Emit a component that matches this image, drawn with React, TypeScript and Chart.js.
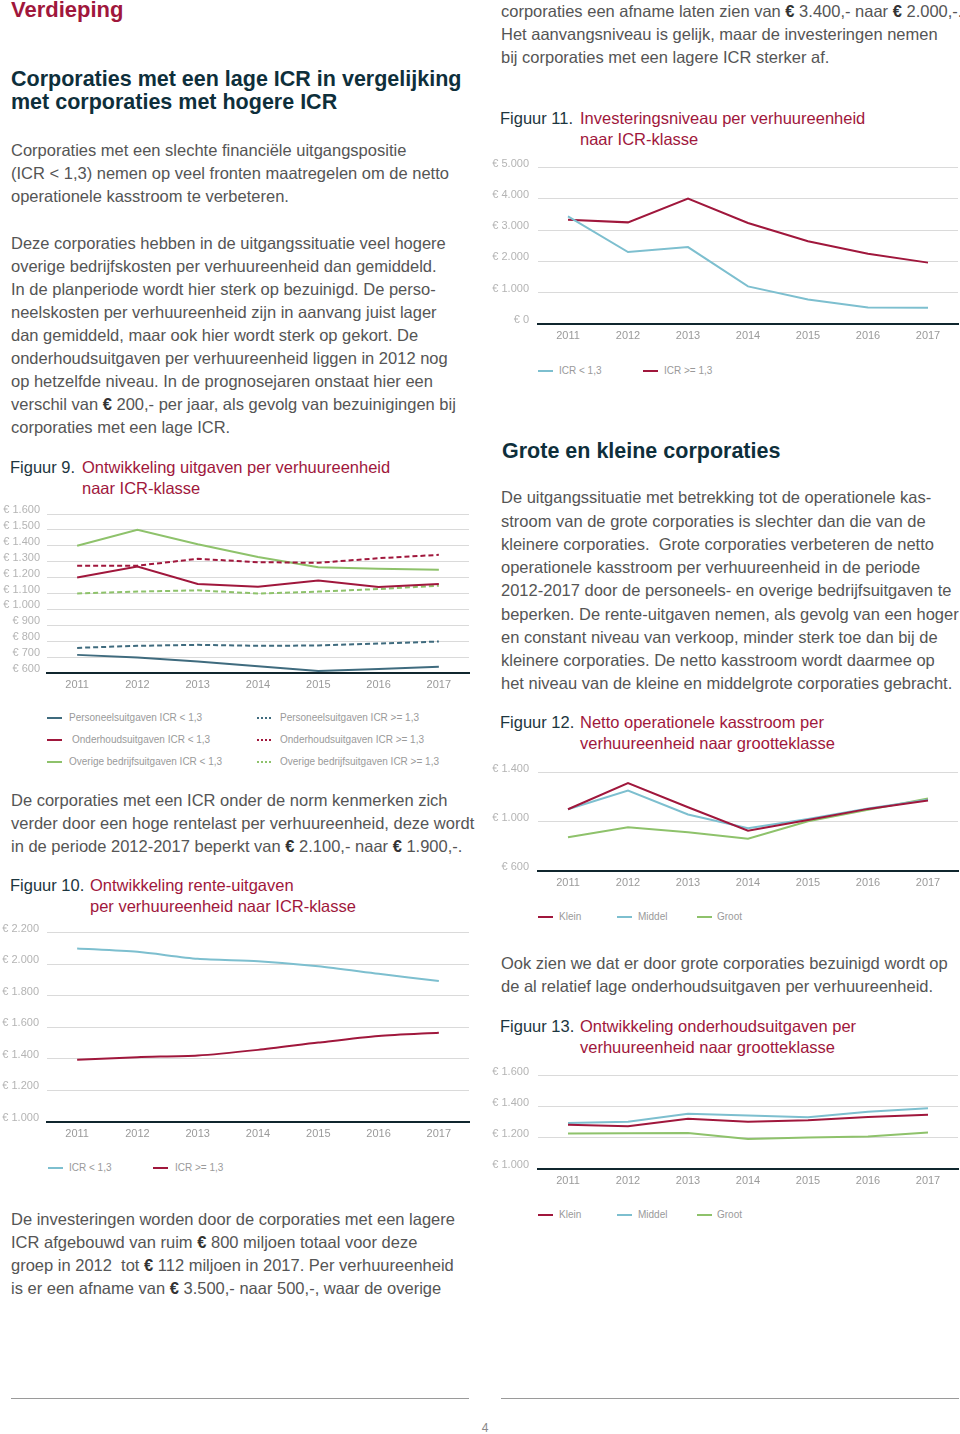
import React, { useEffect, useRef } from "react";
import { Chart, registerables } from "chart.js";

Chart.register(...registerables);

const FONT = '"Liberation Sans", Arial, Helvetica, sans-serif';

const years = ["2011", "2012", "2013", "2014", "2015", "2016", "2017"];

// Figuur 9
const personeelLow = [714, 697, 672, 642, 613, 625, 640];
const personeelHigh = [758, 771, 777, 771, 773, 785, 798];
const onderhoudLow = [1200, 1270, 1160, 1143, 1181, 1141, 1160];
const onderhoudHigh = [1274, 1275, 1318, 1297, 1293, 1322, 1343];
const overigeLow = [1400, 1500, 1410, 1330, 1265, 1255, 1250];
const overigeHigh = [1100, 1112, 1120, 1100, 1112, 1128, 1149];

// Figuur 10
const renteLow = [2100, 2078, 2034, 2019, 1987, 1939, 1893];
const renteHigh = [1394, 1411, 1421, 1457, 1503, 1545, 1566];

// Figuur 11
const investLow = [3440, 2300, 2458, 1203, 781, 527, 517];
const investHigh = [3333, 3249, 4008, 3228, 2648, 2247, 1962];

// Figuur 12
const kasKlein = [1102, 1315, 1118, 927, 1015, 1105, 1174];
const kasMiddel = [1102, 1254, 1060, 948, 1023, 1108, 1180];
const kasGroot = [874, 956, 916, 863, 1004, 1097, 1190];

// Figuur 13
const ohKlein = [1285, 1275, 1323, 1304, 1313, 1334, 1349];
const ohMiddel = [1296, 1304, 1355, 1344, 1332, 1368, 1391];
const ohGroot = [1228, 1230, 1232, 1192, 1203, 1209, 1235];

const RED = "#a0173c";
const SLATE = "#3f6b7e";
const GREEN = "#8ec26b";
const LIGHTBLUE = "#7dbfcf";
const DARK = "#0e2f3b";
const TEXT = "#555555";
const BODY = 16.5;

type Series = { label: string; data: number[]; color: string; dashed?: boolean };

const fig9Series: Series[] = [
  { label: "Personeelsuitgaven ICR < 1,3", data: personeelLow, color: SLATE },
  { label: "Personeelsuitgaven ICR >= 1,3", data: personeelHigh, color: SLATE, dashed: true },
  { label: "Onderhoudsuitgaven ICR < 1,3", data: onderhoudLow, color: RED },
  { label: "Onderhoudsuitgaven ICR >= 1,3", data: onderhoudHigh, color: RED, dashed: true },
  { label: "Overige bedrijfsuitgaven ICR < 1,3", data: overigeLow, color: GREEN },
  { label: "Overige bedrijfsuitgaven ICR >= 1,3", data: overigeHigh, color: GREEN, dashed: true },
];
const fig10Series: Series[] = [
  { label: "ICR < 1,3", data: renteLow, color: LIGHTBLUE },
  { label: "ICR >= 1,3", data: renteHigh, color: RED },
];
const fig11Series: Series[] = [
  { label: "ICR < 1,3", data: investLow, color: LIGHTBLUE },
  { label: "ICR >= 1,3", data: investHigh, color: RED },
];
const fig12Series: Series[] = [
  { label: "Klein", data: kasKlein, color: RED },
  { label: "Middel", data: kasMiddel, color: LIGHTBLUE },
  { label: "Groot", data: kasGroot, color: GREEN },
];
const fig13Series: Series[] = [
  { label: "Klein", data: ohKlein, color: RED },
  { label: "Middel", data: ohMiddel, color: LIGHTBLUE },
  { label: "Groot", data: ohGroot, color: GREEN },
];

function euro(v: number | string) {
  const n = Math.round(Number(v));
  return "€ " + String(n).replace(/\B(?=(\d{3})+(?!\d))/g, ".");
}

type ChartProps = {
  x: number; y: number; w: number; h: number; yW: number; pad: number;
  min: number; max: number; step: number; series: Series[]; tension?: number;
};

function LineChart({ x, y, w, h, yW, pad, min, max, step, series, tension = 0 }: ChartProps) {
  const ref = useRef<HTMLCanvasElement>(null);
  const PT = 14;
  const XH = 22;
  const cw = yW + w + 1;
  const ch = PT + h + XH;
  useEffect(() => {
    const chart = new Chart(ref.current as HTMLCanvasElement, {
      type: "line",
      data: {
        labels: years,
        datasets: series.map((s) => ({
          label: s.label,
          data: s.data,
          borderColor: s.color,
          backgroundColor: s.color,
          borderWidth: 2,
          borderDash: s.dashed ? [5, 3] : [],
          pointRadius: 0,
          tension,
          fill: false,
        })),
      },
      options: {
        responsive: false,
        animation: false,
        maintainAspectRatio: false,
        layout: { padding: { top: PT, right: 1, left: 0, bottom: 0 } },
        plugins: { legend: { display: false }, tooltip: { enabled: false } },
        scales: {
          x: {
            offset: true,
            grid: { display: false, drawTicks: false },
            border: { display: true, color: "#10262e", width: 2 },
            ticks: { color: "#9a9a9a", font: { size: 11, family: FONT }, padding: 5, maxRotation: 0, autoSkip: false },
            afterFit: (s: any) => { s.height = XH; },
          },
          y: {
            min, max,
            grid: { color: "#dadada", lineWidth: 1, drawTicks: false },
            border: { display: false },
            ticks: {
              stepSize: step,
              autoSkip: false,
              color: "#b4b4b4",
              font: { size: 11, family: FONT },
              padding: pad,
              labelOffset: -4,
              callback: (v: any) => euro(v),
            },
            afterFit: (s: any) => { s.width = yW; },
          },
        },
      } as any,
    });
    return () => chart.destroy();
  }, []);
  return (
    <canvas
      ref={ref}
      width={cw}
      height={ch}
      style={{ position: "absolute", left: x - yW, top: y - PT, width: cw, height: ch }}
    />
  );
}

type LegendItem = { series: Series; x: number; y: number; textX: number };

function Legend({ items }: { items: LegendItem[] }) {
  return (
    <>
      {items.map((it, i) => (
        <React.Fragment key={i}>
          <div
            style={{
              position: "absolute",
              left: it.x,
              top: it.y - 1,
              width: 15,
              height: 2,
              background: it.series.dashed
                ? `repeating-linear-gradient(90deg, ${it.series.color} 0 2.5px, transparent 2.5px 4px)`
                : it.series.color,
            }}
          />
          <div
            style={{
              position: "absolute",
              left: it.textX,
              top: it.y - 7,
              height: 14,
              lineHeight: "14px",
              fontSize: 10,
              color: "#9a9a9a",
              whiteSpace: "nowrap",
            }}
          >
            {it.series.label}
          </div>
        </React.Fragment>
      ))}
    </>
  );
}

function renderEuro(line: string) {
  const parts = line.split("€");
  const out: React.ReactNode[] = [];
  parts.forEach((p, i) => {
    if (i > 0) out.push(<span key={"e" + i} style={{ fontWeight: 700, color: "#333" }}>€</span>);
    out.push(<React.Fragment key={"t" + i}>{p}</React.Fragment>);
  });
  return out;
}

type TLProps = {
  x: number; y: number; lines: string[]; size?: number; lh?: number;
  color?: string; weight?: number;
};

function TextLines({ x, y, lines, size = BODY, lh = 23, color = TEXT, weight = 400 }: TLProps) {
  return (
    <>
      {lines.map((l, i) => (
        <div
          key={i}
          style={{
            position: "absolute",
            left: x,
            top: y - lh / 2 + i * lh,
            height: lh,
            lineHeight: lh + "px",
            fontSize: size,
            fontWeight: weight,
            color,
            whiteSpace: "pre",
          }}
        >
          {renderEuro(l)}
        </div>
      ))}
    </>
  );
}

function Caption({ x, titleX, y, num, lines }: { x: number; titleX: number; y: number; num: string; lines: string[] }) {
  return (
    <>
      <div style={{ position: "absolute", left: x, top: y - 10, lineHeight: "20px", fontSize: 16.5, color: "#1d3640", whiteSpace: "nowrap" }}>
        {num}
      </div>
      {lines.map((l, i) => (
        <div key={i} style={{ position: "absolute", left: titleX, top: y - 10 + i * 20.5, lineHeight: "20px", fontSize: 16.5, color: RED, whiteSpace: "nowrap" }}>
          {l}
        </div>
      ))}
    </>
  );
}

const para1 = [
  "Corporaties met een slechte financiële uitgangspositie",
  "(ICR < 1,3) nemen op veel fronten maatregelen om de netto",
  "operationele kasstroom te verbeteren.",
];
const para2 = [
  "Deze corporaties hebben in de uitgangssituatie veel hogere",
  "overige bedrijfskosten per verhuureenheid dan gemiddeld.",
  "In de planperiode wordt hier sterk op bezuinigd. De perso-",
  "neelskosten per verhuureenheid zijn in aanvang juist lager",
  "dan gemiddeld, maar ook hier wordt sterk op gekort. De",
  "onderhoudsuitgaven per verhuureenheid liggen in 2012 nog",
  "op hetzelfde niveau. In de prognosejaren onstaat hier een",
  "verschil van € 200,- per jaar, als gevolg van bezuinigingen bij",
  "corporaties met een lage ICR.",
];
const para3 = [
  "De corporaties met een ICR onder de norm kenmerken zich",
  "verder door een hoge rentelast per verhuureenheid, deze wordt",
  "in de periode 2012-2017 beperkt van € 2.100,- naar € 1.900,-.",
];
const para4 = [
  "De investeringen worden door de corporaties met een lagere",
  "ICR afgebouwd van ruim € 800 miljoen totaal voor deze",
  "groep in 2012  tot € 112 miljoen in 2017. Per verhuureenheid",
  "is er een afname van € 3.500,- naar 500,-, waar de overige",
];
const paraR1 = [
  "corporaties een afname laten zien van € 3.400,- naar € 2.000,-.",
  "Het aanvangsniveau is gelijk, maar de investeringen nemen",
  "bij corporaties met een lagere ICR sterker af.",
];
const paraR2 = [
  "De uitgangssituatie met betrekking tot de operationele kas-",
  "stroom van de grote corporaties is slechter dan die van de",
  "kleinere corporaties.  Grote corporaties verbeteren de netto",
  "operationele kasstroom per verhuureenheid in de periode",
  "2012-2017 door de personeels- en overige bedrijfsuitgaven te",
  "beperken. De rente-uitgaven nemen, als gevolg van een hoger",
  "en constant niveau van verkoop, minder sterk toe dan bij de",
  "kleinere corporaties. De netto kasstroom wordt daarmee op",
  "het niveau van de kleine en middelgrote corporaties gebracht.",
];
const paraR3 = [
  "Ook zien we dat er door grote corporaties bezuinigd wordt op",
  "de al relatief lage onderhoudsuitgaven per verhuureenheid.",
];

export default function App() {
  return (
    <div
      style={{
        position: "absolute",
        left: 0,
        top: 0,
        width: 960,
        height: 1434,
        background: "#fff",
        fontFamily: FONT,
        overflow: "hidden",
      }}
    >
      {/* Left column */}
      <TextLines x={11} y={10} lines={["Verdieping"]} size={22} lh={26} color={RED} weight={700} />
      <TextLines
        x={11}
        y={79}
        lines={["Corporaties met een lage ICR in vergelijking", "met corporaties met hogere ICR"]}
        size={21.5}
        lh={23}
        color={DARK}
        weight={700}
      />
      <TextLines x={11} y={150} lines={para1} />
      <TextLines x={11} y={243} lines={para2} />

      <Caption x={10} titleX={82} y={467} num="Figuur 9." lines={["Ontwikkeling uitgaven per verhuureenheid", "naar ICR-klasse"]} />
      <LineChart x={47} y={514} w={422} h={159} yW={47} pad={7} min={600} max={1600} step={100} series={fig9Series} />
      <Legend
        items={[
          { series: fig9Series[0], x: 47, y: 718, textX: 69 },
          { series: fig9Series[2], x: 47, y: 740, textX: 72 },
          { series: fig9Series[4], x: 47, y: 762, textX: 69 },
          { series: fig9Series[1], x: 257, y: 718, textX: 280 },
          { series: fig9Series[3], x: 257, y: 740, textX: 280 },
          { series: fig9Series[5], x: 257, y: 762, textX: 280 },
        ]}
      />

      <TextLines x={11} y={800} lines={para3} />

      <Caption x={10} titleX={90} y={885} num="Figuur 10." lines={["Ontwikkeling rente-uitgaven", "per verhuureenheid naar ICR-klasse"]} />
      <LineChart x={47} y={932} w={422} h={190} yW={47} pad={8} min={1000} max={2200} step={200} series={fig10Series} tension={0.25} />
      <Legend
        items={[
          { series: fig10Series[0], x: 48, y: 1168, textX: 69 },
          { series: fig10Series[1], x: 153, y: 1168, textX: 175 },
        ]}
      />

      <TextLines x={11} y={1219} lines={para4} />

      {/* Right column */}
      <TextLines x={501} y={11} lines={paraR1} />
      <Caption x={500} titleX={580} y={118} num="Figuur 11." lines={["Investeringsniveau per verhuureenheid", "naar ICR-klasse"]} />
      <LineChart x={538} y={166} w={420} h={158} yW={48} pad={9} min={0} max={5000} step={1000} series={fig11Series} />
      <Legend
        items={[
          { series: fig11Series[0], x: 538, y: 371, textX: 559 },
          { series: fig11Series[1], x: 643, y: 371, textX: 664 },
        ]}
      />

      <TextLines x={502} y={451} lines={["Grote en kleine corporaties"]} size={21.5} lh={26} color={DARK} weight={700} />
      <TextLines x={501} y={498} lines={paraR2} lh={23.25} />

      <Caption x={500} titleX={580} y={722} num="Figuur 12." lines={["Netto operationele kasstroom per", "verhuureenheid naar grootteklasse"]} />
      <LineChart x={538} y={771} w={420} h={100} yW={48} pad={9} min={600} max={1400} step={400} series={fig12Series} />
      <Legend
        items={[
          { series: fig12Series[0], x: 538, y: 917, textX: 559 },
          { series: fig12Series[1], x: 617, y: 917, textX: 638 },
          { series: fig12Series[2], x: 697, y: 917, textX: 717 },
        ]}
      />

      <TextLines x={501} y={963} lines={paraR3} />

      <Caption x={500} titleX={580} y={1026} num="Figuur 13." lines={["Ontwikkeling onderhoudsuitgaven per", "verhuureenheid naar grootteklasse"]} />
      <LineChart x={538} y={1074} w={420} h={95} yW={48} pad={9} min={1000} max={1600} step={200} series={fig13Series} />
      <Legend
        items={[
          { series: fig13Series[0], x: 538, y: 1215, textX: 559 },
          { series: fig13Series[1], x: 617, y: 1215, textX: 638 },
          { series: fig13Series[2], x: 697, y: 1215, textX: 717 },
        ]}
      />

      {/* Footer */}
      <div style={{ position: "absolute", left: 11, top: 1398, width: 458, height: 1, background: "#9a9a9a" }} />
      <div style={{ position: "absolute", left: 501, top: 1398, width: 458, height: 1, background: "#9a9a9a" }} />
      <div style={{ position: "absolute", left: 478, top: 1420, width: 14, textAlign: "center", fontSize: 12, lineHeight: "16px", color: "#888" }}>
        4
      </div>
    </div>
  );
}
